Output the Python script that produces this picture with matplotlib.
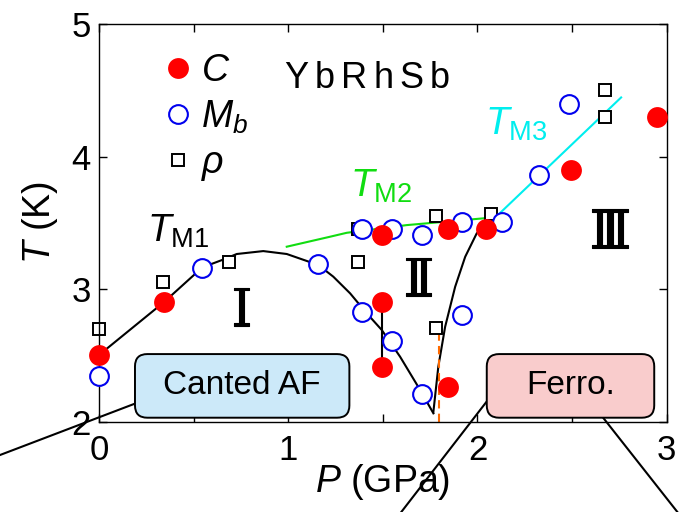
import matplotlib
matplotlib.use('Agg')
import matplotlib.pyplot as plt
import matplotlib.patheffects as pe
from matplotlib.patches import FancyBboxPatch

plt.rcParams['font.family'] = ['Liberation Sans', 'DejaVu Sans']
plt.rcParams['mathtext.fontset'] = 'custom'
plt.rcParams['mathtext.rm'] = 'Liberation Sans'
plt.rcParams['mathtext.it'] = 'Liberation Sans:italic'
plt.rcParams['mathtext.bf'] = 'Liberation Sans:bold'

# specific heat C
p_C = [0.0, 0.344, 1.497, 1.497, 1.846, 1.497, 1.846, 2.045, 2.495, 2.947]
t_C = [2.50, 2.905, 2.905, 2.41, 2.26, 3.408, 3.453, 3.453, 3.90, 4.30]
# magnetization M_b
p_M = [0.0, 0.544, 1.156, 1.388, 1.550, 1.705, 1.917, 1.388, 1.547, 1.705,
       1.917, 2.128, 2.327, 2.486]
t_M = [2.345, 3.157, 3.187, 2.825, 2.609, 2.209, 2.805, 3.453, 3.453, 3.408,
       3.504, 3.504, 3.86, 4.40]
# resistivity rho
p_R = [0.0, 0.34, 0.689, 1.369, 1.371, 1.781, 2.07, 2.674, 2.674, 1.781]
t_R = [2.70, 3.05, 3.207, 3.453, 3.202, 3.551, 3.57, 4.50, 4.30, 2.71]

# phase boundaries (guides to the eye)
p_M1 = [0.0, 0.344, 0.546, 0.649, 0.728, 0.868, 0.992, 1.159, 1.238, 1.327,
        1.415, 1.494, 1.591, 1.697, 1.767]
t_M1 = [2.503, 2.903, 3.164, 3.219, 3.265, 3.287, 3.265, 3.182, 3.094, 2.968,
        2.817, 2.692, 2.490, 2.239, 2.063]
p_M1b = [1.767, 1.793, 1.829, 1.882, 1.935, 1.996, 2.040]
t_M1b = [2.075, 2.415, 2.716, 3.018, 3.244, 3.421, 3.483]
p_M2 = [0.992, 1.22, 1.309, 1.626, 2.031, 2.102]
t_M2 = [3.32, 3.395, 3.425, 3.483, 3.534, 3.551]
p_M3 = [2.102, 2.759]
t_M3 = [3.551, 4.446]
p_step = [1.497, 1.497]
t_step = [2.41, 2.905]
p_fm = [1.797, 1.797]
t_fm = [2.0, 2.754]


def spaced_text(ax, x, y, s, gap, **kw):
    t = ax.text(x, y, s[0], va='baseline', **kw)
    for ch in s[1:]:
        t = ax.annotate(ch, xy=(1, 0), xycoords=t, xytext=(gap, 0),
                        textcoords='offset points', va='bottom', **kw)
    return t


fig = plt.figure(figsize=(6.82, 5.12), dpi=100)
ax = fig.add_axes([0.1452, 0.1764, 0.8324, 0.7767])

ax.plot(p_M1, t_M1, color='k', lw=1.5, zorder=1)
ax.plot(p_M1b, t_M1b, color='k', lw=1.5, zorder=1)
ax.plot(p_step, t_step, color='k', lw=1.5, zorder=1)
ax.plot(p_M2, t_M2, color='#11dd11', lw=1.5, zorder=1)
ax.plot(p_M3, t_M3, color='#00eeee', lw=1.5, zorder=1)
ax.plot(p_fm, t_fm, color='#ff6a00', lw=1.5, ls=(0, (4, 2.5)), zorder=1)

h_R, = ax.plot(p_R, t_R, 's', ms=8.5, mfc='white', mec='k', mew=1.4,
               ls='none', zorder=2, clip_on=False)
h_M, = ax.plot(p_M, t_M, 'o', ms=13.5, mfc='white', mec='#0000ee', mew=1.5,
               ls='none', zorder=3, clip_on=False)
h_C, = ax.plot(p_C, t_C, 'o', ms=15, mfc='red', mec='red', mew=0,
               ls='none', zorder=4, clip_on=False)

ax.legend([h_C, h_M, h_R], ['$C$', '$M_b$', r'$\rho$'], loc='upper left',
          bbox_to_anchor=(0.113, 0.928), frameon=False, fontsize=27,
          handlelength=0.8, handletextpad=0.22, labelspacing=0.26,
          borderpad=0, borderaxespad=0)

spaced_text(ax, 0.98, 4.52, 'YbRhSb', 4.5, fontsize=26)

ax.text(0.254, 3.355, r'$T_{\rm M1}$', fontsize=28, va='baseline')
ax.text(1.327, 3.695, r'$T_{\rm M2}$', fontsize=28, va='baseline',
        color='#11dd11')
ax.text(2.040, 4.162, r'$T_{\rm M3}$', fontsize=28, va='baseline',
        color='#00eeee')

roman = dict(fontsize=38, ha='center', va='center', family='DejaVu Serif',
             path_effects=[pe.withStroke(linewidth=0.8, foreground='k')])
ax.text(0.754, 2.83, 'Ⅰ', **roman)
ax.text(1.688, 3.056, 'Ⅱ', **roman)
ax.text(2.70, 3.42, 'Ⅲ', **roman)

# leader lines running out of the frame
ax.plot([-0.55, 0.217], [1.734, 2.151], color='k', lw=1.5, clip_on=False,
        zorder=5)
ax.plot([2.067, 1.565], [2.186, 1.259], color='k', lw=1.5, clip_on=False,
        zorder=5)
ax.plot([2.632, 3.097], [2.088, 1.245], color='k', lw=1.5, clip_on=False,
        zorder=5)

aspect = (189.2 / 132.6)
for (x0, x1, fc, label) in [(0.19, 1.323, '#cce9f9', 'Canted AF'),
                            (2.049, 2.934, '#f9cccc', 'Ferro.')]:
    box = FancyBboxPatch((x0, 2.03), x1 - x0, 0.48,
                         boxstyle='round,pad=0,rounding_size=0.065',
                         mutation_aspect=aspect, fc=fc, ec='k', lw=1.4,
                         clip_on=False, zorder=6)
    ax.add_patch(box)
    ax.text((x0 + x1) / 2, 2.27, label, fontsize=24, ha='center',
            va='center', zorder=7)

ax.set_xlim(0, 3)
ax.set_ylim(2, 5)
ax.set_xticks([0, 1, 2, 3])
ax.set_xticks([0.5, 1.5, 2.5], minor=True)
ax.set_yticks([2, 3, 4, 5])
ax.tick_params(which='both', direction='in', top=True, right=True,
               length=6, width=1, labelsize=25)
ax.tick_params(axis='x', pad=9)
ax.tick_params(axis='y', pad=6)
for s in ax.spines.values():
    s.set_linewidth(1.0)

ax.set_xlabel('$P$ (GPa)', fontsize=27, labelpad=-4)
ax.set_ylabel('$T$ (K)', fontsize=27, labelpad=8)

fig.savefig('out.png', dpi=100)
